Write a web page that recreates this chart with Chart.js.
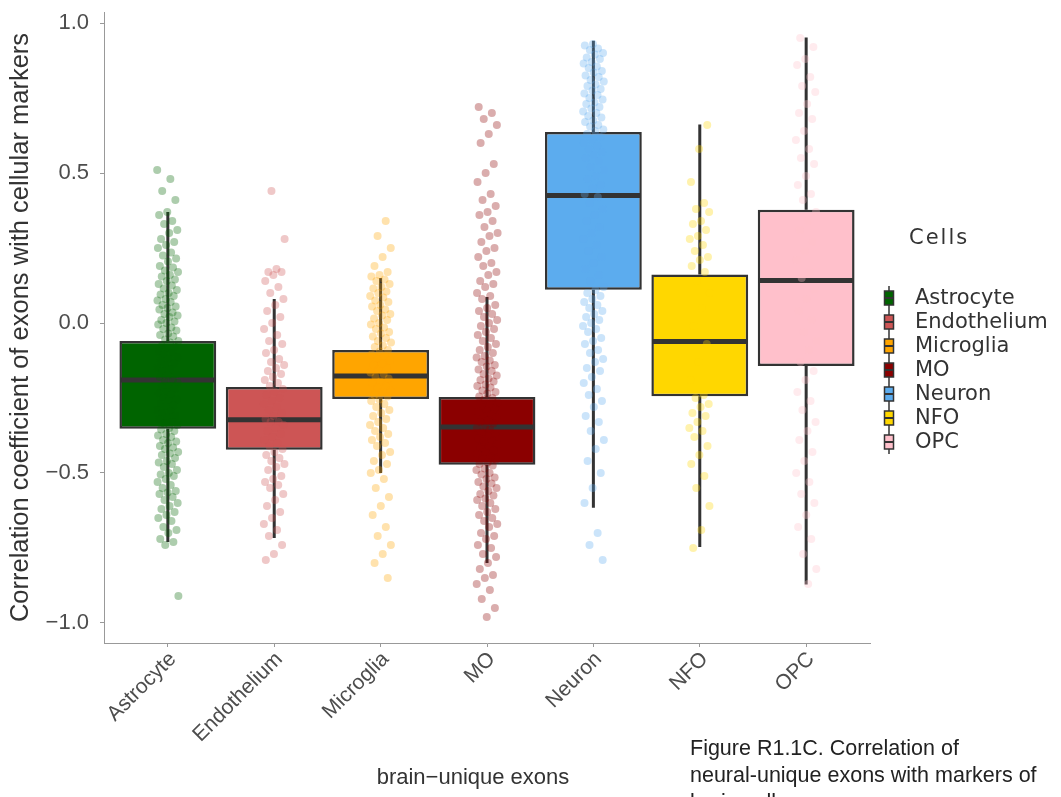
<!DOCTYPE html>
<html>
<head>
<meta charset="utf-8">
<script src="https://cdn.jsdelivr.net/npm/chart.js@4.4.1/dist/chart.umd.min.js"></script>
<style>
  html, body { margin: 0; padding: 0; background: #fff; }
</style>
</head>
<body>
<canvas id="exonChart" width="1061" height="797"></canvas>
<script>
const cells = ["Astrocyte", "Endothelium", "Microglia", "MO", "Neuron", "NFO", "OPC"];
const fills = ["#006400", "#CD5555", "#FFA500", "#8B0000", "#5CACEE", "#FFD700", "#FFC0CB"];

// box statistics per cell type
const q1 = [-0.353, -0.423, -0.253, -0.473, 0.111, -0.244, -0.143];
const median = [-0.19, -0.323, -0.177, -0.347, 0.425, -0.062, 0.142];
const q3 = [-0.06, -0.213, -0.09, -0.247, 0.637, 0.162, 0.378];
const whiskerLow = [-0.73, -0.717, -0.50, -0.80, -0.616, -0.747, -0.872];
const whiskerHigh = [0.37, 0.08, 0.15, 0.087, 0.941, 0.662, 0.952];

// correlation of each exon with the cell marker
const astrocytePts = [0.51, 0.48, 0.44, 0.41, 0.37, 0.36, 0.34, 0.33, 0.31, 0.30, 0.28, 0.27, 0.26, 0.25, 0.235,
  0.225, 0.215, 0.205, 0.19, 0.185, 0.175, 0.17, 0.16, 0.155, 0.145, 0.14, 0.13, 0.125, 0.115, 0.11, 0.10, 0.095,
  0.09, 0.08, 0.075, 0.07, 0.06, 0.055, 0.05, 0.045, 0.035, 0.03, 0.025, 0.02, 0.01, 0.005, 0.00, -0.005, -0.015,
  -0.02, -0.025, -0.035, -0.04, -0.045, -0.055, -0.06, -0.065, -0.075, -0.08, -0.085, -0.095, -0.10, -0.105, -0.115,
  -0.12, -0.125, -0.135, -0.14, -0.15, -0.155, -0.16, -0.17, -0.175, -0.18, -0.19, -0.195, -0.20, -0.21, -0.215,
  -0.22, -0.23, -0.235, -0.24, -0.25, -0.255, -0.26, -0.27, -0.275, -0.28, -0.29, -0.295, -0.30, -0.31, -0.315,
  -0.32, -0.33, -0.335, -0.34, -0.35, -0.355, -0.36, -0.37, -0.375, -0.38, -0.39, -0.395, -0.40, -0.41, -0.415,
  -0.42, -0.43, -0.435, -0.44, -0.45, -0.46, -0.465, -0.47, -0.48, -0.49, -0.50, -0.505, -0.51, -0.52, -0.53,
  -0.54, -0.55, -0.56, -0.565, -0.57, -0.58, -0.59, -0.60, -0.61, -0.62, -0.63, -0.64, -0.65, -0.66, -0.68, -0.69,
  -0.70, -0.72, -0.73, -0.74, -0.91];
const endotheliumPts = [0.44, 0.28, 0.18, 0.17, 0.17, 0.16, 0.14, 0.12, 0.10, 0.08, 0.06, 0.04, 0.02, 0.00, -0.02,
  -0.04, -0.06, -0.07, -0.09, -0.10, -0.12, -0.13, -0.14, -0.15, -0.16, -0.17, -0.18, -0.19, -0.20, -0.21, -0.22,
  -0.23, -0.24, -0.25, -0.26, -0.27, -0.28, -0.29, -0.30, -0.31, -0.32, -0.33, -0.33, -0.34, -0.35, -0.36, -0.37,
  -0.38, -0.39, -0.40, -0.41, -0.42, -0.43, -0.44, -0.45, -0.46, -0.47, -0.48, -0.49, -0.51, -0.52, -0.53, -0.54,
  -0.55, -0.57, -0.59, -0.61, -0.63, -0.65, -0.67, -0.69, -0.71, -0.74, -0.77, -0.79];
const microgliaPts = [0.34, 0.29, 0.25, 0.22, 0.19, 0.17, 0.16, 0.155, 0.145, 0.14, 0.13, 0.12, 0.115, 0.105, 0.10,
  0.09, 0.085, 0.075, 0.07, 0.06, 0.055, 0.045, 0.04, 0.03, 0.025, 0.015, 0.01, 0.00, -0.005, -0.015, -0.02, -0.03,
  -0.035, -0.045, -0.05, -0.06, -0.065, -0.075, -0.08, -0.09, -0.095, -0.105, -0.11, -0.12, -0.125, -0.135, -0.14,
  -0.15, -0.155, -0.165, -0.17, -0.18, -0.185, -0.195, -0.20, -0.21, -0.215, -0.225, -0.23, -0.24, -0.245, -0.255,
  -0.26, -0.27, -0.28, -0.29, -0.30, -0.31, -0.32, -0.33, -0.34, -0.35, -0.36, -0.37, -0.38, -0.39, -0.40, -0.41,
  -0.43, -0.44, -0.46, -0.47, -0.49, -0.50, -0.52, -0.55, -0.58, -0.61, -0.64, -0.68, -0.71, -0.74, -0.77, -0.80,
  -0.85];
const moPts = [0.72, 0.70, 0.68, 0.66, 0.63, 0.60, 0.53, 0.50, 0.47, 0.43, 0.41, 0.39, 0.37, 0.36, 0.34, 0.32, 0.30,
  0.29, 0.27, 0.25, 0.24, 0.22, 0.20, 0.19, 0.17, 0.16, 0.14, 0.13, 0.12, 0.10, 0.09, 0.08, 0.06, 0.05, 0.04, 0.03,
  0.02, 0.01, 0.00, -0.01, -0.02, -0.03, -0.04, -0.05, -0.06, -0.07, -0.08, -0.09, -0.10, -0.11, -0.115, -0.125,
  -0.13, -0.14, -0.145, -0.155, -0.16, -0.17, -0.175, -0.185, -0.19, -0.195, -0.205, -0.21, -0.215, -0.225, -0.23,
  -0.235, -0.245, -0.25, -0.255, -0.265, -0.27, -0.275, -0.285, -0.29, -0.295, -0.305, -0.31, -0.315, -0.325, -0.33,
  -0.335, -0.345, -0.35, -0.355, -0.365, -0.37, -0.375, -0.385, -0.39, -0.395, -0.405, -0.41, -0.415, -0.425, -0.43,
  -0.435, -0.445, -0.45, -0.455, -0.465, -0.47, -0.475, -0.485, -0.49, -0.50, -0.505, -0.515, -0.52, -0.53, -0.535,
  -0.545, -0.55, -0.56, -0.57, -0.575, -0.585, -0.59, -0.60, -0.61, -0.62, -0.63, -0.64, -0.65, -0.66, -0.67, -0.68,
  -0.70, -0.71, -0.72, -0.74, -0.75, -0.77, -0.78, -0.80, -0.82, -0.84, -0.85, -0.87, -0.89, -0.92, -0.95, -0.98];
const neuronPts = [0.93, 0.925, 0.915, 0.91, 0.90, 0.895, 0.885, 0.88, 0.87, 0.865, 0.855, 0.85, 0.84, 0.835, 0.825,
  0.82, 0.81, 0.805, 0.795, 0.79, 0.78, 0.775, 0.765, 0.76, 0.75, 0.745, 0.735, 0.73, 0.72, 0.715, 0.705, 0.70, 0.69,
  0.685, 0.675, 0.67, 0.66, 0.655, 0.645, 0.64, 0.63, 0.62, 0.61, 0.60, 0.59, 0.58, 0.57, 0.56, 0.55, 0.54, 0.52,
  0.51, 0.49, 0.48, 0.46, 0.45, 0.43, 0.42, 0.40, 0.38, 0.36, 0.34, 0.32, 0.30, 0.28, 0.26, 0.24, 0.22, 0.20, 0.18,
  0.16, 0.14, 0.12, 0.11, 0.10, 0.09, 0.08, 0.07, 0.06, 0.05, 0.04, 0.03, 0.02, 0.01, 0.00, -0.01, -0.02, -0.03,
  -0.05, -0.06, -0.07, -0.09, -0.10, -0.12, -0.13, -0.15, -0.16, -0.18, -0.20, -0.22, -0.24, -0.26, -0.28, -0.31,
  -0.33, -0.36, -0.39, -0.42, -0.46, -0.50, -0.55, -0.60, -0.70, -0.74, -0.79];
const nfoPts = [0.66, 0.58, 0.47, 0.40, 0.38, 0.37, 0.34, 0.33, 0.31, 0.29, 0.28, 0.26, 0.24, 0.22, 0.21, 0.19, 0.17,
  0.14, 0.10, 0.05, -0.01, -0.07, -0.13, -0.19, -0.24, -0.25, -0.27, -0.28, -0.30, -0.31, -0.33, -0.35, -0.36, -0.38,
  -0.41, -0.44, -0.47, -0.51, -0.55, -0.61, -0.69, -0.75];
const opcPts = [0.95, 0.92, 0.88, 0.86, 0.82, 0.79, 0.77, 0.73, 0.70, 0.68, 0.64, 0.61, 0.58, 0.55, 0.53, 0.49, 0.46,
  0.43, 0.41, 0.37, 0.34, 0.31, 0.27, 0.24, 0.21, 0.17, 0.15, 0.11, 0.08, 0.04, 0.01, -0.03, -0.06, -0.09, -0.13,
  -0.16, -0.19, -0.23, -0.26, -0.29, -0.33, -0.36, -0.39, -0.43, -0.46, -0.50, -0.53, -0.57, -0.60, -0.64, -0.68,
  -0.72, -0.77, -0.82, -0.87];
const cellPts = [astrocytePts, endotheliumPts, microgliaPts, moPts, neuronPts, nfoPts, opcPts];

const yTicks = [-1, -0.5, 0, 0.5, 1];
const yTickLabels = ["\u22121.0", "\u22120.5", "0.0", "0.5", "1.0"];

function withAlpha(hex, a) {
  const n = parseInt(hex.slice(1), 16);
  return "rgba(" + (n >> 16) + "," + ((n >> 8) & 255) + "," + (n & 255) + "," + a + ")";
}

// spread the points sideways around their box
function jitter(i, c) {
  return (((i * 0.618034 + c * 0.37) % 1) - 0.5) * 0.2;
}

const pointSets = cellPts.map((pts, c) => ({
  type: "scatter",
  label: cells[c],
  data: pts.map((v, i) => ({ x: c + 1 + jitter(i, c), y: v })),
  backgroundColor: withAlpha(fills[c], 0.32),
  borderWidth: 0,
  pointRadius: 4,
  order: 1
}));

// whiskers and median bars, drawn right after the boxes
const boxParts = {
  id: "boxParts",
  afterDatasetDraw(chart, args) {
    if (args.index !== 0) return;
    const { ctx, scales: { x, y } } = chart;
    const bars = args.meta.data;
    ctx.save();
    ctx.strokeStyle = "#333333";
    cells.forEach((c, i) => {
      const px = x.getPixelForValue(i + 1);
      const half = bars[i].width / 2;
      ctx.lineWidth = 3;
      ctx.beginPath();
      ctx.moveTo(px, y.getPixelForValue(q3[i]));
      ctx.lineTo(px, y.getPixelForValue(whiskerHigh[i]));
      ctx.moveTo(px, y.getPixelForValue(q1[i]));
      ctx.lineTo(px, y.getPixelForValue(whiskerLow[i]));
      ctx.stroke();
      const my = y.getPixelForValue(median[i]);
      ctx.lineWidth = 5;
      ctx.beginPath();
      ctx.moveTo(px - half + 1, my);
      ctx.lineTo(px + half - 1, my);
      ctx.stroke();
    });
    ctx.restore();
  }
};

// x title, "Cells" key and the figure caption
const sideKey = {
  id: "sideKey",
  afterDraw(chart) {
    const ctx = chart.ctx;
    ctx.save();
    ctx.fillStyle = "#333333";
    ctx.textBaseline = "middle";
    ctx.textAlign = "center";
    ctx.font = "22px 'Liberation Sans'";
    ctx.fillText("brain\u2212unique exons", 473, 778);

    ctx.textAlign = "left";
    ctx.font = "21px 'DejaVu Sans'";
    ctx.letterSpacing = "2px";
    ctx.fillText("Cells", 909, 239);
    ctx.letterSpacing = "0px";

    const kx = 889, ky = 298, step = 24;
    ctx.strokeStyle = "#333333";
    ctx.lineWidth = 1.5;
    ctx.beginPath();
    ctx.moveTo(kx, ky - 12);
    ctx.lineTo(kx, ky + step * (cells.length - 1) + 12);
    ctx.stroke();
    cells.forEach((c, i) => {
      const cy = ky + step * i;
      ctx.fillStyle = fills[i];
      ctx.fillRect(kx - 4.5, cy - 7, 9, 14);
      ctx.lineWidth = 1.5;
      ctx.strokeRect(kx - 4.5, cy - 7, 9, 14);
      ctx.lineWidth = 2;
      ctx.beginPath();
      ctx.moveTo(kx - 4.5, cy);
      ctx.lineTo(kx + 4.5, cy);
      ctx.stroke();
      ctx.fillStyle = "#333333";
      ctx.font = "21px 'DejaVu Sans'";
      ctx.fillText(c, 915, cy + 1);
    });

    ctx.fillStyle = "#222222";
    ctx.font = "21.5px 'Liberation Sans'";
    ctx.textBaseline = "alphabetic";
    ctx.fillText("Figure R1.1C. Correlation of", 690, 755);
    ctx.fillText("neural-unique exons with markers of", 690, 782);
    ctx.fillText("brain cells.", 690, 809);
    ctx.restore();
  }
};

new Chart(document.getElementById("exonChart"), {
  type: "bar",
  data: {
    datasets: [
      {
        type: "bar",
        label: "box",
        data: cells.map((c, i) => ({ x: i + 1, y: [q1[i], q3[i]] })),
        backgroundColor: fills,
        borderColor: "#333333",
        borderWidth: 2.5,
        borderSkipped: false,
        categoryPercentage: 1,
        barPercentage: 0.91,
        order: 2
      },
      ...pointSets
    ]
  },
  options: {
    responsive: false,
    animation: false,
    events: [],
    layout: { padding: { top: 12, right: 191, left: 0, bottom: 0 } },
    plugins: { legend: { display: false }, tooltip: { enabled: false } },
    scales: {
      x: {
        type: "linear",
        min: 0.4,
        max: 7.6,
        offset: false,
        afterBuildTicks: (s) => { s.ticks = cells.map((c, i) => ({ value: i + 1 })); },
        afterFit: (s) => { s.height = 154; s.paddingLeft = 0; s.paddingRight = 0; },
        ticks: {
          callback: (v) => cells[v - 1],
          autoSkip: false,
          minRotation: 45,
          maxRotation: 45,
          padding: 0,
          labelOffset: 5,
          color: "#4d4d4d",
          font: { family: "'Liberation Sans'", size: 21 }
        },
        grid: { offset: false, drawOnChartArea: false, tickLength: 4, color: "#999999" },
        border: { color: "#999999", width: 1 }
      },
      y: {
        min: -1.067,
        max: 1.037,
        afterBuildTicks: (s) => { s.ticks = yTicks.map((v) => ({ value: v })); },
        afterFit: (s) => { s.width = 104; s.paddingTop = 0; s.paddingBottom = 0; },
        ticks: {
          callback: (v, i) => yTickLabels[i],
          padding: 11,
          color: "#4d4d4d",
          font: { family: "'Liberation Sans'", size: 22 }
        },
        grid: { drawOnChartArea: false, tickLength: 4, color: "#999999" },
        border: { color: "#999999", width: 1 },
        title: {
          display: true,
          text: "Correlation coefficient of exons with cellular markers",
          color: "#333333",
          font: { family: "'Liberation Sans'", size: 25.5 },
          padding: { top: 6, bottom: 0 }
        }
      }
    }
  },
  plugins: [boxParts, sideKey]
});
</script>
</body>
</html>
